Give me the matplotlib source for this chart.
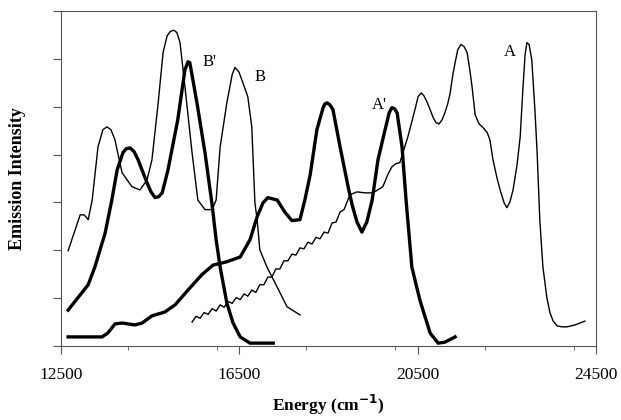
import matplotlib
matplotlib.use("Agg")
import matplotlib.pyplot as plt
from matplotlib.ticker import MultipleLocator

plt.rcParams["font.family"] = ["Liberation Serif", "DejaVu Serif"]

# ── 発光スペクトル ──
# B: 細線（左）
b_x = [12660, 12930, 13020, 13110, 13200, 13330, 13440, 13530, 13620, 13710,
       13870, 14090, 14270, 14430, 14540, 14680, 14790, 14880, 14950, 15030,
       15100, 15170, 15280, 15440, 15570, 15730, 15890, 15980, 16070, 16220,
       16340, 16400, 16490, 16580, 16690, 16780, 16850, 16900, 16960, 17120,
       17350, 17570, 17860]
b_y = [1.99, 2.74, 2.74, 2.64, 3.05, 4.16, 4.52, 4.58, 4.52, 4.31,
       3.62, 3.33, 3.26, 3.47, 3.89, 5.08, 6.13, 6.48, 6.57, 6.60,
       6.55, 6.34, 5.42, 4.04, 3.05, 2.85, 2.85, 3.05, 4.16, 5.08,
       5.67, 5.82, 5.73, 5.50, 5.21, 4.58, 2.99, 2.64, 2.01, 1.65,
       1.23, 0.82, 0.65]

# B': 太線（左）
bp_x = [12660, 13110, 13260, 13490, 13640, 13760, 13890, 13960, 14050, 14140,
        14230, 14430, 14520, 14610, 14690, 14770, 14900, 15120, 15280, 15350,
        15390, 15550, 15730, 15890, 15980, 16070, 16220, 16360, 16520, 16740,
        17260]
bp_y = [0.75, 1.28, 1.65, 2.36, 3.05, 3.68, 4.04, 4.12, 4.14, 4.06,
        3.89, 3.41, 3.22, 3.10, 3.12, 3.20, 3.68, 4.73, 5.77, 5.94,
        5.92, 5.08, 4.04, 2.95, 2.22, 1.65, 0.90, 0.48, 0.19, 0.06,
        0.06]

# A': 太線（右）
ap_x = [12660, 13420, 13550, 13710, 13870, 14160, 14320, 14540, 14830, 15060,
        15350, 15660, 15910, 16220, 16520, 16740, 16900, 17030, 17140, 17350,
        17520, 17680, 17860, 17970, 18090, 18240, 18380, 18420, 18470, 18530,
        18600, 18760, 18940, 19030, 19140, 19250, 19360, 19480, 19610, 19770,
        19860, 19920, 19980, 20040, 20150, 20240, 20370, 20550, 20780, 20960,
        21110, 21340]
ap_y = [0.19, 0.19, 0.27, 0.46, 0.48, 0.44, 0.48, 0.63, 0.71, 0.86,
        1.17, 1.49, 1.69, 1.76, 1.86, 2.22, 2.70, 2.99, 3.10, 3.05,
        2.80, 2.62, 2.64, 3.05, 3.58, 4.52, 4.98, 5.06, 5.08, 5.04,
        4.94, 4.16, 3.33, 2.95, 2.59, 2.38, 2.59, 3.05, 3.89, 4.52,
        4.87, 4.98, 4.96, 4.87, 4.16, 3.05, 1.65, 0.96, 0.27, 0.06,
        0.08, 0.19]

# A: 細線（右）
a_x = [15440, 15530, 15620, 15710, 15800, 15890, 15980, 16070, 16160, 16250,
       16340, 16430, 16520, 16610, 16690, 16780, 16870, 16960, 17050, 17140,
       17230, 17320, 17410, 17500, 17590, 17680, 17770, 17860, 17950, 18040,
       18130, 18220, 18310, 18400, 18490, 18580, 18670, 18760, 18850,
       18980, 19140, 19320, 19500, 19720, 19830, 19920, 20010, 20100, 20190,
       20280, 20370, 20440, 20510, 20580, 20640, 20710, 20780, 20840, 20910,
       20980, 21050, 21110, 21180, 21230, 21290, 21340, 21400, 21470, 21540,
       21610, 21670, 21720, 21790, 21880, 21970, 22060, 22120, 22190, 22280,
       22350, 22440, 22500, 22570, 22640, 22730, 22800, 22860, 22910, 22950,
       23000, 23060, 23130, 23180, 23240, 23310, 23400, 23470, 23540, 23630,
       23740, 23850, 24030, 24250]
a_y = [0.50, 0.62, 0.58, 0.70, 0.66, 0.78, 0.73, 0.86, 0.81, 0.93,
       0.89, 1.01, 0.97, 1.09, 1.04, 1.17, 1.12, 1.28, 1.28, 1.44,
       1.44, 1.61, 1.61, 1.78, 1.78, 1.92, 1.90, 2.05, 2.03, 2.17,
       2.13, 2.27, 2.24, 2.38, 2.36, 2.57, 2.59, 2.80, 2.85,
       3.16, 3.22, 3.20, 3.20, 3.33, 3.58, 3.74, 3.81, 3.83, 4.10,
       4.37, 4.69, 4.94, 5.21, 5.29, 5.23, 5.10, 4.94, 4.79, 4.67,
       4.64, 4.73, 4.87, 5.08, 5.29, 5.67, 5.92, 6.19, 6.30, 6.26,
       6.13, 5.77, 5.42, 4.83, 4.64, 4.56, 4.46, 4.31, 3.89, 3.51,
       3.26, 2.99, 2.89, 3.01, 3.26, 3.79, 4.37, 5.36, 6.09, 6.34,
       6.30, 5.98, 4.94, 4.04, 2.64, 1.65, 1.00, 0.69, 0.52, 0.42,
       0.40, 0.40, 0.44, 0.52]

labels = ["B'", "B", "A'", "A"]
label_x = [15840, 16960, 19650, 22570]
label_y = [5.94, 5.63, 5.04, 6.15]

fig = plt.figure(figsize=(6.21, 4.2), dpi=100)
ax = fig.add_axes([0.0982, 0.1762, 0.8615, 0.7976])

ax.plot(b_x, b_y, color="black", lw=1.0)
ax.plot(a_x, a_y, color="black", lw=1.0)
ax.plot(bp_x, bp_y, color="black", lw=2.4, solid_joinstyle="round")
ax.plot(ap_x, ap_y, color="black", lw=2.4, solid_joinstyle="round")

for t, x, y in zip(labels, label_x, label_y):
    ax.text(x, y, t, fontsize=12, ha="center", va="center")

ax.set_xlim(12500, 24500)
ax.set_ylim(0, 7)
ax.set_xticks([12500, 16500, 20500, 24500])
ax.xaxis.set_minor_locator(MultipleLocator(2000))
ax.yaxis.set_major_locator(MultipleLocator(1))
ax.set_yticklabels([])
ax.tick_params(axis="x", which="major", length=6, width=0.8, color="#555555",
               labelsize=12.5, pad=9)
ax.tick_params(axis="x", which="minor", length=3, width=0.6, color="#555555")
ax.tick_params(axis="y", length=6, width=0.8, color="#555555")

for s in ax.spines.values():
    s.set_color("#555555")
    s.set_linewidth(0.8)

ax.set_xlabel("Energy (cm$^{\\mathbf{-1}}$)", fontsize=12.5, fontweight="bold", labelpad=7)
ax.set_ylabel("Emission Intensity", fontsize=13, fontweight="bold", labelpad=16)

fig.savefig("out.png", dpi=100)
